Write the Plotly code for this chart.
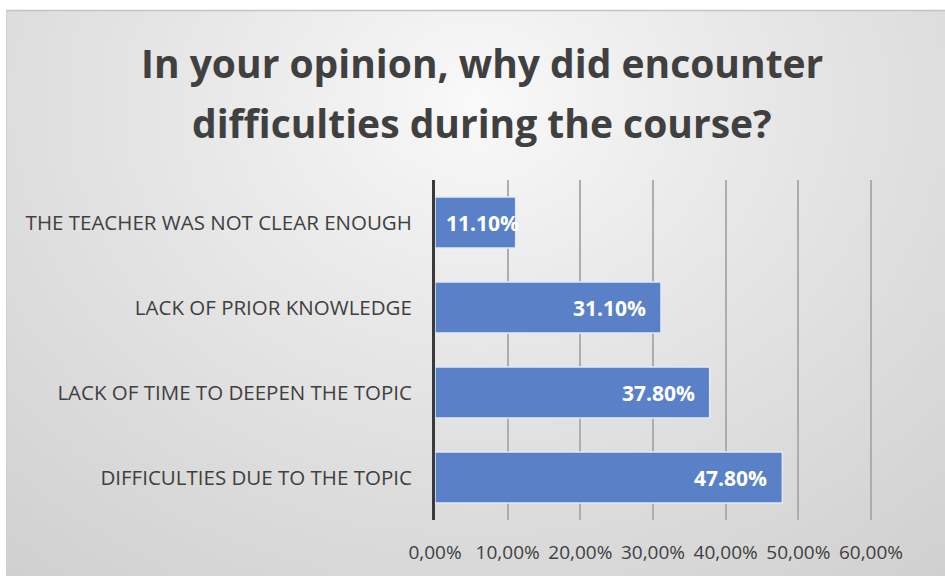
import base64, struct, zlib
import plotly.graph_objects as go

categories = ["DIFFICULTIES DUE TO THE TOPIC", "LACK OF TIME TO DEEPEN THE TOPIC",
              "LACK OF PRIOR KNOWLEDGE", "THE TEACHER WAS NOT CLEAR ENOUGH"]
values = [0.478, 0.378, 0.311, 0.111]
value_labels = ["47.80%", "37.80%", "31.10%", "11.10%"]
tick_vals = [0, 0.1, 0.2, 0.3, 0.4, 0.5, 0.6]
tick_text = ["0,00%", "10,00%", "20,00%", "30,00%", "40,00%", "50,00%", "60,00%"]
title_lines = ["In your opinion, why did encounter", "difficulties during the course?"]

# plot area geometry (pixels)
L, R, T, B = 435, 875, 180, 520
PW, PH = R - L, B - T
PX_PER_UNIT = 436 / 0.6
XMAX = PW / PX_PER_UNIT


def make_png(w, h):
    rows = []
    cx, cy = w * 0.5, h * 0.16
    rmax = ((w * 0.55) ** 2 + (h * 1.05) ** 2) ** 0.5
    for y in range(h):
        row = bytearray([0])
        for x in range(w):
            d = ((x - cx) ** 2 + ((y - cy) * 1.2) ** 2) ** 0.5 / rmax
            d = min(d, 1.0)
            v = int(251 - (251 - 206) * d ** 0.85)
            row += bytes([v, v, v])
        rows.append(bytes(row))
    raw = b"".join(rows)

    def chunk(t, data):
        c = struct.pack(">I", len(data)) + t + data
        return c + struct.pack(">I", zlib.crc32(t + data) & 0xffffffff)
    png = b"\x89PNG\r\n\x1a\n" + chunk(b"IHDR", struct.pack(">IIBBBBB", w, h, 8, 2, 0, 0, 0))
    png += chunk(b"IDAT", zlib.compress(raw, 9)) + chunk(b"IEND", b"")
    return "data:image/png;base64," + base64.b64encode(png).decode()


bg = make_png(188, 114)


def px_x(px):
    return (px - L) / PW


def px_y(py):
    return (B - py) / PH


fig = go.Figure(go.Bar(
    y=categories, x=values, orientation="h",
    marker=dict(color="#5A81C8", line=dict(color="#E4EAF5", width=1.5)),
    width=0.6,
    hoverinfo="x+y",
))

annotations = []
for cat, v, lab in zip(categories, values, value_labels):
    bar_px = v * PX_PER_UNIT
    shift = -13 if bar_px > 120 else 5
    annotations.append(dict(x=v, y=cat, xref="x", yref="y", text=lab, showarrow=False,
                            xanchor="right", yanchor="middle", xshift=shift,
                            font=dict(family="Open Sans", size=21, color="white", weight="bold")))
for i, line in enumerate(title_lines):
    annotations.append(dict(text=line, xref="paper", yref="paper",
                            x=px_x(482), y=px_y(63 + 60 * i), xanchor="center", yanchor="middle",
                            showarrow=False,
                            font=dict(family="Open Sans", size=39, color="#404040", weight="bold")))

fig.update_layout(
    width=945, height=576,
    margin=dict(l=L, r=945 - R, t=T, b=576 - B, autoexpand=False),
    paper_bgcolor="white", plot_bgcolor="rgba(0,0,0,0)",
    showlegend=False,
    images=[dict(source=bg, xref="paper", yref="paper", x=px_x(6), y=px_y(10),
                 sizex=939 / PW, sizey=566 / PH, xanchor="left", yanchor="top",
                 sizing="stretch", layer="below")],
    shapes=[
        dict(type="line", xref="paper", yref="paper", x0=px_x(6), x1=px_x(945),
             y0=px_y(10.5), y1=px_y(10.5), line=dict(color="#C4C4C4", width=1.5)),
        dict(type="line", xref="paper", yref="paper", x0=px_x(6.5), x1=px_x(6.5),
             y0=px_y(10), y1=px_y(576), line=dict(color="#D0D0D0", width=1)),
    ],
    annotations=annotations,
)
fig.update_xaxes(range=[0, XMAX], tickvals=tick_vals, ticktext=tick_text,
                 showgrid=True, gridcolor="#ADADAD", gridwidth=1.5,
                 zeroline=False, showline=False, ticks="", automargin=False,
                 tickfont=dict(family="Open Sans", size=19, color="#404040"),
                 ticklabelstandoff=19)
fig.update_yaxes(showline=True, linecolor="#3A3A3A", linewidth=3, automargin=False,
                 ticks="", ticklabelstandoff=16,
                 tickfont=dict(family="Open Sans", size=20.5, color="#404040"))

fig.write_html("out.html", config={"displayModeBar": False},
               post_script="document.body.style.margin='0';")
